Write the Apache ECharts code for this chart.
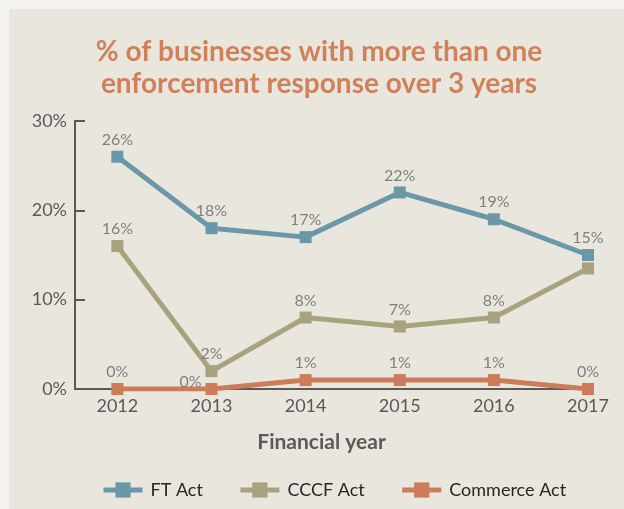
<!DOCTYPE html>
<html>
<head>
<meta charset="utf-8">
<script src="https://cdn.jsdelivr.net/npm/echarts@6/dist/echarts.min.js"></script>
<style>
  html, body { margin: 0; padding: 0; background: #f4f3ef; }
  #chart { position: absolute; left: 9px; top: 9px; width: 615px; height: 500px; background: #e9e7dd; }
</style>
</head>
<body>
<div id="chart"></div>
<script>
// Financial years on the horizontal axis
const years = [2012, 2013, 2014, 2015, 2016, 2017];
// Share of businesses (%) with more than one enforcement response over 3 years
const ftAct = [26, 18, 17, 22, 19, 15];
const cccfAct = [16, 2, 8, 7, 8, 13.5];
const commerceAct = [0, 0, 1, 1, 1, 0];
const yTicks = [0, 10, 20, 30];

const FONT = 'Lato, "Noto Sans", sans-serif';
const labelGrey = '#7f7f7f';
const axisGrey = '#595959';

function pairs(vals) {
  return years.map((y, i) => [y, vals[i]]);
}

const chart = echarts.init(document.getElementById('chart'), null, { renderer: 'canvas' });

const baseLabel = {
  show: true,
  position: 'top',
  distance: 3,
  color: labelGrey,
  fontSize: 16,
  fontFamily: FONT,
  formatter: p => p.value[1].toFixed(0) + '%'
};

function makeSeries(name, vals, color, overrides) {
  const data = pairs(vals).map((d, i) => {
    const item = { value: d };
    if (overrides && overrides[i]) item.label = overrides[i];
    return item;
  });
  return {
    name: name,
    type: 'line',
    data: data,
    symbol: 'rect',
    symbolSize: 12,
    itemStyle: { color: color },
    lineStyle: { color: color, width: 5 },
    label: baseLabel,
    emphasis: { disabled: true },
    animation: false
  };
}

chart.setOption({
  animation: false,
  title: {
    text: '% of businesses with more than one\nenforcement response over 3 years',
    left: 310,
    textAlign: 'center',
    top: 27,
    padding: 0,
    textStyle: {
      color: '#d0805a',
      fontSize: 28,
      fontWeight: 'bold',
      fontFamily: FONT,
      lineHeight: 32
    }
  },
  legend: {
    left: 87,
    top: 467,
    itemWidth: 39,
    itemHeight: 19,
    itemGap: 35,
    lineStyle: { width: 5 },
    textStyle: { color: '#262626', fontSize: 18, fontFamily: FONT, padding: [0, 0, 0, 3] },
    data: ['FT Act', 'CCCF Act', 'Commerce Act']
  },
  grid: { left: 66, right: 36, top: 112, bottom: 120 },
  xAxis: {
    type: 'value',
    min: 2011.55,
    max: 2017,
    name: 'Financial year',
    nameLocation: 'middle',
    nameGap: 43,
    nameTextStyle: { color: axisGrey, fontSize: 21, fontWeight: 'bold', fontFamily: FONT, padding: [0, 20, 0, 0] },
    axisLine: { lineStyle: { color: axisGrey, width: 2 } },
    axisTick: { show: false },
    splitLine: { show: false },
    axisLabel: {
      customValues: years,
      formatter: v => String(v),
      color: axisGrey,
      fontSize: 18,
      fontFamily: FONT,
      margin: 8
    }
  },
  yAxis: {
    type: 'value',
    min: 0,
    max: 30,
    interval: 10,
    axisLine: { show: true, lineStyle: { color: axisGrey, width: 2 } },
    axisTick: { show: true, inside: true, length: 10, lineStyle: { color: axisGrey, width: 2 } },
    splitLine: { show: false },
    axisLabel: {
      customValues: yTicks,
      formatter: v => v + '%',
      color: axisGrey,
      fontSize: 18,
      fontFamily: FONT,
      margin: 8
    }
  },
  series: [
    makeSeries('FT Act', ftAct, '#6b98a8'),
    makeSeries('CCCF Act', cccfAct, '#a9a27f', { 5: { show: false } }),
    makeSeries('Commerce Act', commerceAct, '#cc7c58', { 1: { position: 'left', distance: 4, offset: [0, -7] } })
  ]
});
</script>
</body>
</html>
